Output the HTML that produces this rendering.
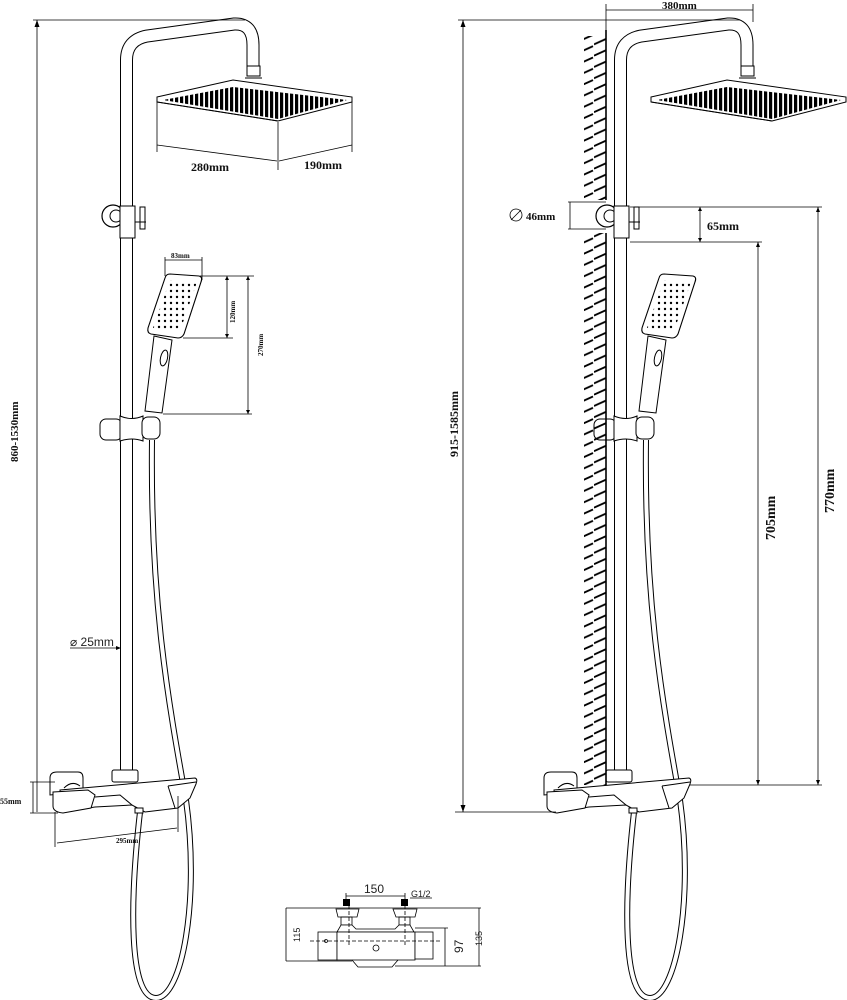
<!DOCTYPE html>
<html><head><meta charset="utf-8"><style>
html,body{margin:0;padding:0;background:#fff}
svg{display:block}
.b{font-family:"Liberation Serif",serif;font-weight:bold;fill:#111}
.s{font-family:"Liberation Sans",sans-serif;fill:#222}
</style></head><body>
<svg width="847" height="1000" viewBox="0 0 847 1000" xmlns="http://www.w3.org/2000/svg">
<defs>
<pattern id="noz" width="5" height="40" patternUnits="userSpaceOnUse"><rect x="0" y="0" width="3.2" height="40" fill="#000"/></pattern>
<pattern id="dots" width="6" height="6" patternUnits="userSpaceOnUse"><circle cx="3" cy="3" r="1.2" fill="#000"/></pattern>
<pattern id="hatch" width="22" height="11.3" patternUnits="userSpaceOnUse"><line x1="0" y1="10.5" x2="21" y2="1" stroke="#000" stroke-width="1.8"/></pattern>
<g id="shower" fill="none" stroke="#000">
  <path d="M126.5,775 L126.5,60 Q126.5,40 147,36 L234,24 Q253,23 253,45 L253,67" stroke-width="13"/>
  <path d="M126.5,775 L126.5,60 Q126.5,40 147,36 L234,24 Q253,23 253,45 L253,67" stroke="#fff" stroke-width="11"/>
  <rect x="247" y="66" width="13" height="10" fill="#fff" stroke-width="1"/>
  <line x1="245" y1="78" x2="262" y2="78" stroke-width="1"/>
  <path d="M157,97 L233,80 L352,97 L352,102 L278,121 L157,102 Z" fill="#fff" stroke-width="1"/>
  <path d="M163,100 L233,87 L347,100 L278,119 Z" fill="url(#noz)" stroke="none"/>
  <line x1="157" y1="102" x2="278" y2="121" stroke-width="1"/>
  <circle cx="113" cy="216" r="11" fill="#fff" stroke-width="1.2"/>
  <circle cx="116" cy="216" r="6" fill="#fff" stroke-width="1"/>
  <rect x="120" y="206" width="15" height="32" fill="#fff" stroke-width="1"/>
  <rect x="140" y="207" width="5" height="22" fill="#fff" stroke-width="1"/>
  <line x1="135" y1="222" x2="146" y2="222" stroke-width="1"/>
  <path d="M152,440 C150,600 168,700 186,800 C200,900 182,998 156,998 C128,998 130,900 140,812" stroke-width="6"/>
  <path d="M152,440 C150,600 168,700 186,800 C200,900 182,998 156,998 C128,998 130,900 140,812" stroke="#fff" stroke-width="4"/>
  <rect x="100" y="419" width="22" height="21" rx="6" fill="#fff" stroke-width="1"/>
  <path d="M120,416 Q132,421 143,416 L143,441 Q132,437 120,441 Z" fill="#fff" stroke-width="1"/>
  <rect x="142" y="417" width="18" height="22" rx="6" fill="#fff" stroke-width="1"/>
  <path d="M154,336 L172,340 L162,413 L145,411 Z" fill="#fff" stroke-width="1"/>
  <ellipse cx="164" cy="358" rx="3.5" ry="8" transform="rotate(12 164 358)" fill="#fff" stroke-width="1"/>
  <path d="M170,274 L199,276 Q203,277 201,282 L184,334 Q182,338 178,338 L151,334 Q147,333 148,328 L165,278 Q166,274 170,274 Z" fill="#fff" stroke-width="1.1"/>
  <path d="M170,280 L197,282 L180,331 L153,328 Z" fill="url(#dots)" stroke="none"/>
  <rect x="112" y="770" width="26" height="12" rx="2" fill="#fff" stroke-width="1"/>
  <path d="M50,778 Q50,772 57,772 L78,772 Q83,772 83,778 L83,792 L50,795 Z" fill="#fff" stroke-width="1"/>
  <path d="M60,790 L195,778 Q198,779 196,784 L190,798 L178,808 L145,812 L132,805 L95,807 L62,812 Z" fill="#fff" stroke-width="1"/>
  <path d="M53,792 L88,790 L95,795 L91,808 L63,813 Q53,812 53,806 Z" fill="#fff" stroke-width="1"/>
  <path d="M64,788 Q72,780 80,786" stroke-width="1"/>
  <path d="M168,786 L196,782 M168,786 L175,808" stroke-width="1"/>
  <path d="M132,805 L120,795 L95,797" stroke-width="1"/>
  <rect x="135" y="808" width="8" height="5" fill="#fff" stroke-width="1"/>
</g>
</defs>

<use href="#shower"/>
<use href="#shower" transform="translate(494,0)"/>

<g stroke="#000" stroke-width="0.8" fill="none">
  <line x1="33" y1="20" x2="245" y2="20"/>
  <line x1="37" y1="20" x2="37" y2="812"/>
  <line x1="157" y1="100" x2="157" y2="152"/>
  <line x1="278" y1="122" x2="278" y2="170"/>
  <line x1="352" y1="100" x2="352" y2="152"/>
  <line x1="157" y1="145" x2="277" y2="161"/>
  <line x1="279" y1="161" x2="352" y2="145"/>
  <line x1="165" y1="257" x2="165" y2="276"/>
  <line x1="202" y1="257" x2="202" y2="280"/>
  <line x1="165" y1="260" x2="202" y2="260"/>
  <line x1="200" y1="276" x2="254" y2="276"/>
  <line x1="183" y1="338" x2="233" y2="338"/>
  <line x1="163" y1="414" x2="252" y2="414"/>
  <line x1="227" y1="276" x2="227" y2="338"/>
  <line x1="248" y1="276" x2="248" y2="414"/>
  <line x1="70" y1="648" x2="121" y2="648"/>
  <line x1="30" y1="782" x2="55" y2="782"/>
  <line x1="30" y1="813" x2="58" y2="813"/>
  <line x1="33" y1="782" x2="33" y2="813"/>
  <line x1="55" y1="812" x2="55" y2="847"/>
  <line x1="178" y1="796" x2="178" y2="832"/>
  <line x1="57" y1="843" x2="177" y2="828"/>
  <line x1="458" y1="20" x2="740" y2="20"/>
  <line x1="463" y1="20" x2="463" y2="812"/>
  <line x1="455" y1="812" x2="556" y2="812"/>
  <line x1="606" y1="4" x2="606" y2="30"/>
  <line x1="753" y1="4" x2="753" y2="22"/>
  <line x1="606" y1="10" x2="753" y2="10"/>
  <line x1="568" y1="202" x2="606" y2="202"/>
  <line x1="568" y1="229" x2="606" y2="229"/>
  <line x1="570" y1="202" x2="570" y2="229"/>
  <line x1="630" y1="207" x2="822" y2="207"/>
  <line x1="630" y1="242" x2="762" y2="242"/>
  <line x1="700" y1="207" x2="700" y2="242"/>
  <line x1="758" y1="242" x2="758" y2="785"/>
  <line x1="818" y1="207" x2="818" y2="785"/>
  <line x1="690" y1="785" x2="822" y2="785"/>
  <circle cx="516" cy="215" r="6"/>
  <line x1="511" y1="220" x2="521" y2="210"/>
</g>
<g fill="#000">
  <path d="M37,20 l-2.5,7 h5 Z"/><path d="M463,20 l-2.5,7 h5 Z"/><path d="M463,812 l-2.5,-7 h5 Z"/>
  <path d="M758,242 l-2,5 h4 Z"/><path d="M758,785 l-2,-5 h4 Z"/>
  <path d="M818,207 l-2,5 h4 Z"/><path d="M818,785 l-2,-5 h4 Z"/>
  <path d="M700,207 l-2,4 h4 Z"/><path d="M700,242 l-2,-4 h4 Z"/>
  <path d="M227,276 l-2,4 h4 Z"/><path d="M227,338 l-2,-4 h4 Z"/>
  <path d="M248,276 l-2,4 h4 Z"/><path d="M248,414 l-2,-4 h4 Z"/>
  <path d="M121,648 l-5,-2 v4 Z"/>
</g>
<rect x="584" y="36" width="22" height="164" fill="url(#hatch)"/>
<rect x="584" y="233" width="22" height="552" fill="url(#hatch)"/>
<line x1="606" y1="30" x2="606" y2="200" stroke="#000" stroke-width="1.6"/>
<line x1="606" y1="233" x2="606" y2="785" stroke="#000" stroke-width="1.6"/>

<text class="b" x="191" y="171" font-size="12">280mm</text>
<text class="b" x="304" y="169" font-size="12">190mm</text>
<text class="b" x="171" y="258" font-size="7">83mm</text>
<text class="b" font-size="7" transform="translate(235,323) rotate(-90)">120mm</text>
<text class="b" font-size="7" transform="translate(263,356) rotate(-90)">270mm</text>
<text class="b" font-size="11" transform="translate(18,462) rotate(-90)">860-1530mm</text>
<text class="s" x="70" y="646" font-size="12">⌀ 25mm</text>
<text class="b" x="0" y="804" font-size="8">55mm</text>
<text class="b" x="116" y="843" font-size="7">295mm</text>
<text class="b" x="662" y="9" font-size="11">380mm</text>
<text class="b" font-size="12" transform="translate(458,457) rotate(-90)">915-1585mm</text>
<text class="b" x="526" y="220" font-size="11">46mm</text>
<text class="b" x="707" y="230" font-size="12">65mm</text>
<text class="b" font-size="14" transform="translate(775,540) rotate(-90)">705mm</text>
<text class="b" font-size="14" transform="translate(834,513) rotate(-90)">770mm</text>

<g stroke="#000" stroke-width="0.8" fill="none">
  <line x1="346" y1="896" x2="405" y2="896"/>
  <line x1="346" y1="893" x2="346" y2="905"/><line x1="405" y1="893" x2="405" y2="905"/>
  <line x1="410" y1="898" x2="432" y2="898"/>
  <line x1="286" y1="908" x2="481" y2="908"/>
  <line x1="286" y1="908" x2="286" y2="961"/>
  <line x1="286" y1="961" x2="352" y2="961"/>
  <line x1="415" y1="928" x2="448" y2="928"/>
  <line x1="445" y1="928" x2="445" y2="966"/>
  <line x1="479" y1="908" x2="479" y2="966"/>
  <line x1="395" y1="966" x2="481" y2="966"/>
  <path d="M336,909 h23 l-2,8 h-19 Z" fill="#fff"/>
  <path d="M393,909 h24 l-2,8 h-19 Z" fill="#fff"/>
  <rect x="341" y="917" width="11" height="8"/>
  <rect x="399" y="917" width="11" height="8"/>
  <path d="M337,932 L341,925 L352,925 L356,929 L395,929 L399,925 L410,925 L414,932 Z" fill="#fff"/>
  <rect x="318" y="932" width="19" height="28" fill="#fff"/>
  <rect x="337" y="932" width="78" height="28" fill="#fff"/>
  <rect x="415" y="932" width="18" height="27" fill="#fff"/>
  <path d="M352,960 L358,967 L392,967 L398,960"/>
  <circle cx="326" cy="941" r="1.5"/>
  <circle cx="376" cy="948" r="3"/>
  <line x1="310" y1="941" x2="440" y2="941" stroke-dasharray="4 2"/>
  <line x1="349" y1="905" x2="349" y2="945" stroke-dasharray="4 2"/>
  <line x1="405" y1="905" x2="405" y2="945" stroke-dasharray="4 2"/>
</g>
<rect x="343" y="899" width="7" height="7" fill="#000"/>
<rect x="401" y="899" width="7" height="7" fill="#000"/>
<text class="s" x="364" y="893" font-size="12">150</text>
<text class="s" x="411" y="897" font-size="9">G1/2</text>
<text class="s" font-size="9" transform="translate(300,942) rotate(-90)">115</text>
<text class="s" font-size="12" transform="translate(463,953) rotate(-90)">97</text>
<text class="s" font-size="9" transform="translate(482,946) rotate(-90)">135</text>
</svg>
</body></html>
